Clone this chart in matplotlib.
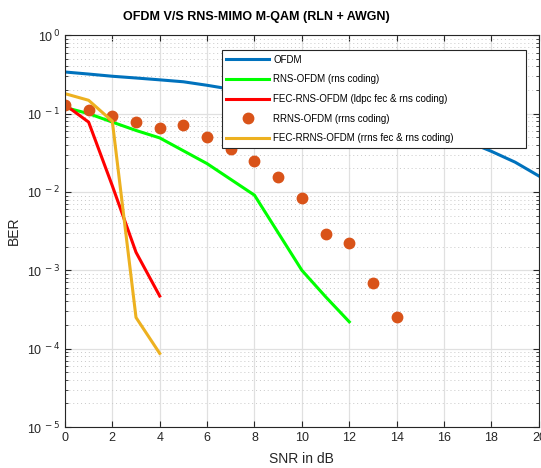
import math

import matplotlib

matplotlib.use("Agg")
import matplotlib.pyplot as plt
from matplotlib.ticker import FixedLocator, FuncFormatter, LogLocator, MultipleLocator, NullFormatter

plt.rcParams["font.family"] = ["Liberation Sans", "DejaVu Sans"]

# SNR grid and BER curves
snr_ofdm = list(range(0, 21))
ber_ofdm = [0.34, 0.32, 0.30, 0.285, 0.27, 0.255, 0.23, 0.205, 0.18, 0.155,
            0.13, 0.11, 0.095, 0.08, 0.068, 0.057, 0.05, 0.044, 0.033, 0.024, 0.016]

snr_rns = [0, 1, 2, 3, 4, 6, 8, 10, 11, 12]
ber_rns = [0.12, 0.1, 0.078, 0.061, 0.049, 0.023, 0.0091, 0.001, 0.00046, 0.00022]

snr_fec_rns = [0, 1, 2, 3, 4]
ber_fec_rns = [0.13, 0.078, 0.012, 0.0017, 0.00047]

snr_rrns = list(range(0, 15))
ber_rrns = [0.128, 0.11, 0.093, 0.078, 0.065, 0.071, 0.05, 0.035, 0.025, 0.0155,
            0.0085, 0.0029, 0.0022, 0.00068, 0.00025]

snr_fec_rrns = [0, 1, 2, 3, 4]
ber_fec_rrns = [0.18, 0.148, 0.08, 0.00025, 0.000087]

labels = [
    "OFDM",
    "RNS-OFDM (rns coding)",
    "FEC-RNS-OFDM (ldpc fec & rns coding)",
    "RRNS-OFDM (rrns coding)",
    "FEC-RRNS-OFDM (rrns fec & rns coding)",
]

fig = plt.figure(figsize=(5.41, 4.68), dpi=100)
ax = fig.add_axes([0.12, 0.0876, 0.876, 0.837])

ax.plot(snr_ofdm, ber_ofdm, color="#0072BD", lw=2.2, label=labels[0])
ax.plot(snr_rns, ber_rns, color="#00FF00", lw=2.2, label=labels[1])
ax.plot(snr_fec_rns, ber_fec_rns, color="#FF0000", lw=2.2, label=labels[2])
ax.plot(snr_rrns, ber_rrns, "o", color="#D95319", ms=7.5, label=labels[3])
ax.plot(snr_fec_rrns, ber_fec_rrns, color="#EDB120", lw=2.2, label=labels[4])

ax.set_yscale("log")
ax.set_xlim(0, 20)
ax.set_ylim(1e-5, 1)
ax.xaxis.set_major_locator(MultipleLocator(2))
ax.yaxis.set_major_locator(FixedLocator([1e-5, 1e-4, 1e-3, 1e-2, 1e-1, 1]))
ax.yaxis.set_minor_locator(LogLocator(base=10, subs=range(2, 10), numticks=20))
ax.yaxis.set_minor_formatter(NullFormatter())
ax.yaxis.set_major_formatter(FuncFormatter(lambda v, _: r"10$^{\,%d}$" % round(math.log10(v))))

ax.grid(True, which="major", color="#e0e0e0", lw=0.9, ls="-")
ax.grid(True, which="minor", axis="y", color="#c8c8c8", lw=0.7, ls=(0, (1, 3)))
ax.set_axisbelow(True)
ax.tick_params(which="both", direction="in", top=True, right=True, labelsize=9,
               colors="#262626", length=4)
ax.tick_params(which="minor", length=2.5)
for s in ax.spines.values():
    s.set_color("#262626")
    s.set_linewidth(0.8)

ax.set_xlabel("SNR in dB", fontsize=10, color="#262626", labelpad=6)
ax.set_ylabel("BER", fontsize=10, color="#262626")
ax.set_title("OFDM V/S RNS-MIMO M-QAM (RLN + AWGN)", fontsize=9, fontweight="bold",
             x=0.405, pad=11)

leg = ax.legend(loc="upper left", bbox_to_anchor=(0.331, 0.719, 0.642, 0.243), mode="expand",
                borderaxespad=0, fontsize=7, handlelength=4.4, handletextpad=0.45,
                fancybox=False, framealpha=1, borderpad=0.45, labelspacing=1.0,
                edgecolor="#262626")
leg.get_frame().set_linewidth(0.8)

fig.savefig("out.png", dpi=100)
